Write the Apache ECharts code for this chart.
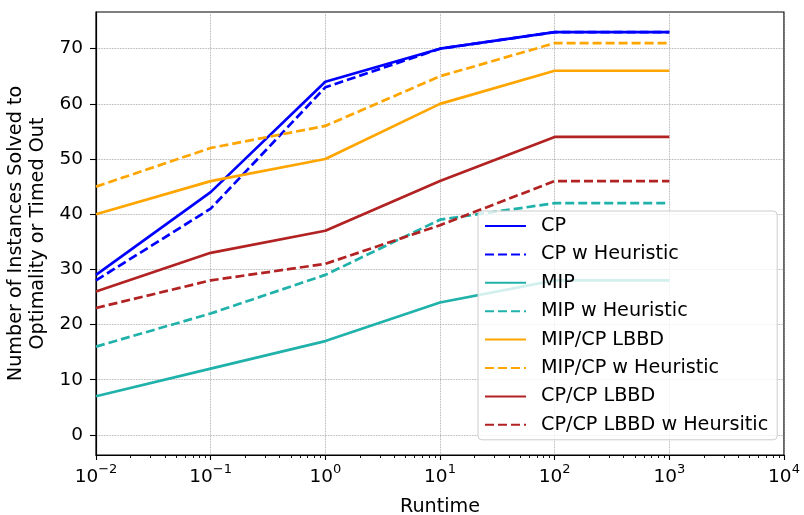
<!DOCTYPE html>
<html>
<head>
<meta charset="utf-8">
<script src="https://cdn.jsdelivr.net/npm/echarts@6/dist/echarts.min.js"></script>
<style>html,body{margin:0;padding:0;background:#fff;}#c{width:804px;height:515px;}</style>
</head>
<body>
<div id="c"></div>
<script>
const runtimes = [0.01, 0.1, 1, 10, 100, 1000];
const cp = [29, 44, 64, 70, 73, 73];
const cpHeur = [28, 41, 63, 70, 73, 73];
const mip = [7, 12, 17, 24, 28, 28];
const mipHeur = [16, 22, 29, 39, 42, 42];
const mipCp = [40, 46, 50, 60, 66, 66];
const mipCpHeur = [45, 52, 56, 65, 71, 71];
const cpCp = [26, 33, 37, 46, 54, 54];
const cpCpHeur = [23, 28, 31, 38, 46, 46];
const yTicks = [0, 10, 20, 30, 40, 50, 60, 70];
const xMinor = [];
for (let e = -2; e < 4; e++) for (let k = 2; k <= 9; k++) xMinor.push(k * Math.pow(10, e));

const FONT = 'DejaVu Sans';
const FS = 18.5;
const LFS = 19.2;
function mk(name, vals, color, dashed) {
  return {
    name, type: 'line', showSymbol: false, symbol: 'none', animation: false,
    data: runtimes.map((x, i) => [x, vals[i]]),
    lineStyle: { color, width: 2.7, type: dashed ? [9, 4] : 'solid' },
    itemStyle: { color }
  };
}
const chart = echarts.init(document.getElementById('c'));
chart.setOption({
  animation: false,
  textStyle: { fontFamily: FONT },
  grid: { left: 96, right: 20, top: 12, bottom: 60, outerBoundsMode: 'none', containLabel: false, show: true, borderColor: '#000', borderWidth: 1.2, backgroundColor: 'transparent' },
  xAxis: [{
    type: 'log', logBase: 10, min: 0.01, max: 10000,
    name: 'Runtime', nameLocation: 'middle', nameGap: 43,
    nameTextStyle: { fontFamily: FONT, fontSize: LFS, color: '#000' },
    axisLine: { show: true, onZero: false, lineStyle: { color: '#000', width: 1.2 } },
    axisTick: { show: true, length: 5, lineStyle: { color: '#000', width: 1.1 } },
    splitLine: { show: true, lineStyle: { color: '#999', type: 'dotted', width: 0.8 } },
    axisLabel: {
      margin: 8, color: '#000',
      formatter: v => '{b|10}{s|' + String(Math.round(Math.log10(v))).replace('-', '\u2212') + '}',
      rich: {
        b: { fontFamily: FONT, fontSize: FS, color: '#000', lineHeight: 24, verticalAlign: 'bottom' },
        s: { fontFamily: FONT, fontSize: 13, color: '#000', lineHeight: 24, verticalAlign: 'top' }
      }
    }
  }, {
    type: 'log', logBase: 10, min: 0.01, max: 10000, gridIndex: 0, position: 'bottom',
    axisLine: { show: false, onZero: false }, axisLabel: { show: false }, splitLine: { show: false },
    axisTick: { show: true, length: 3, customValues: xMinor, lineStyle: { color: '#000', width: 0.9 } }
  }],
  yAxis: {
    type: 'value', min: -3.65, max: 76.65,
    name: 'Number of Instances Solved to\nOptimality or Timed Out',
    nameLocation: 'middle', nameGap: 42, nameRotate: 90,
    nameTextStyle: { fontFamily: FONT, fontSize: LFS, color: '#000', lineHeight: 22 },
    axisLine: { show: true, onZero: false, lineStyle: { color: '#000', width: 1.2 } },
    axisTick: { show: true, length: 6, customValues: yTicks, lineStyle: { color: '#000', width: 1.1 } },
    splitLine: { show: true, lineStyle: { color: '#999', type: 'dotted', width: 0.8 } },
    axisLabel: { customValues: yTicks, fontFamily: FONT, fontSize: FS, color: '#000', margin: 13 }
  },
  legend: {
    orient: 'vertical', left: 478, top: 211,
    itemWidth: 41, itemHeight: 14, itemGap: 9.4,
    padding: [5.5, 9, 5.5, 6],
    backgroundColor: 'rgba(255,255,255,0.8)', borderColor: '#cccccc', borderWidth: 1, borderRadius: 4,
    itemStyle: { opacity: 0 },
    textStyle: { fontFamily: FONT, fontSize: LFS, color: '#000', lineHeight: 19, padding: [0, 0, 0, 10] },
    data: ['CP', 'CP w Heuristic', 'MIP', 'MIP w Heuristic', 'MIP/CP LBBD', 'MIP/CP w Heuristic', 'CP/CP LBBD', 'CP/CP LBBD w Heursitic']
  },
  series: [
    mk('CP', cp, '#0000ff', false),
    mk('CP w Heuristic', cpHeur, '#0000ff', true),
    mk('MIP', mip, '#20b2aa', false),
    mk('MIP w Heuristic', mipHeur, '#20b2aa', true),
    mk('MIP/CP LBBD', mipCp, '#ffa500', false),
    mk('MIP/CP w Heuristic', mipCpHeur, '#ffa500', true),
    mk('CP/CP LBBD', cpCp, '#b22222', false),
    mk('CP/CP LBBD w Heursitic', cpCpHeur, '#b22222', true)
  ]
});
</script>
</body>
</html>
